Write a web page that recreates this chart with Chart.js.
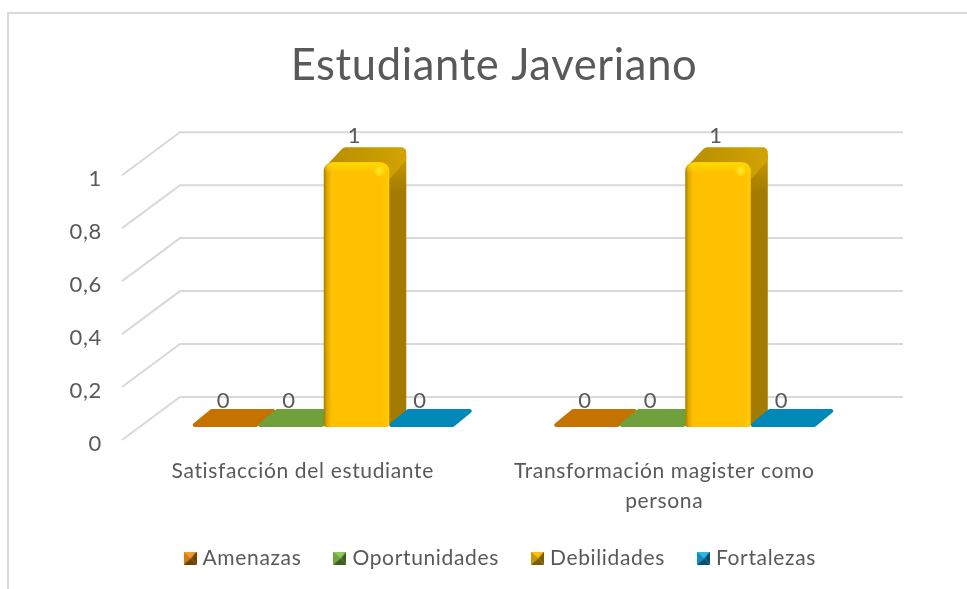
<!DOCTYPE html>
<html>
<head>
<meta charset="utf-8">
<title>Estudiante Javeriano</title>
<script src="https://cdn.jsdelivr.net/npm/chart.js@4"></script>
<style>
    html, body { margin: 0; padding: 0; background: #fff; }
    #frame { position: absolute; left: 7px; top: 12px; right: 0; bottom: 0; border-top: 2px solid #d9d9d9; border-left: 2px solid #d9d9d9; }
    #chart { position: absolute; left: 0; top: 0; display: block; }
</style>
</head>
<body>
<div id="frame"></div>
<canvas id="chart" width="967" height="589"></canvas>
<script>
const titleText = 'Estudiante Javeriano';
const categories = ['Satisfacción del estudiante', ['Transformación magister como', 'persona']];
const amenazas = [0, 0];
const oportunidades = [0, 0];
const debilidades = [1, 1];
const fortalezas = [0, 0];
const yTickLabels = ['0', '0,2', '0,4', '0,6', '0,8', '1'];

const TEXT = '#595959';
const FONT = 'Lato';

const palettes = [
    { name: 'Amenazas', data: amenazas, flat: '#c47200', light: '#f79a2c', mid: '#d97a10', dark: '#6e4200' },
    { name: 'Oportunidades', data: oportunidades, flat: '#70a03c', light: '#8ccc50', mid: '#70a83c', dark: '#3c5c20' },
    { name: 'Debilidades', data: debilidades, flat: '#c49500', light: '#ffc000', mid: '#c89a00', dark: '#7a5c00' },
    { name: 'Fortalezas', data: fortalezas, flat: '#0089b8', light: '#2cb4ee', mid: '#0c8cc4', dark: '#04506e' }
];

// the bars stand part way into the floor, the grid is on the back wall
const BAR_SHIFT = { x: 21, y: -13 };
const BAR_DEPTH = { x: 17, y: -16 };
const WALL_SHIFT = { x: 58, y: -43 };

function makeMarker(p) {
    const s = 13;
    const c = document.createElement('canvas');
    c.width = s;
    c.height = s;
    const g = c.getContext('2d');
    const tri = function(color, ax, ay, bx, by) {
        g.fillStyle = color;
        g.beginPath();
        g.moveTo(ax, ay);
        g.lineTo(bx, by);
        g.lineTo(s / 2 + 1, s / 2);
        g.fill();
    };
    tri(p.light, 0, 0, s, 0);
    tri(p.mid, 0, 0, 0, s);
    tri(p.dark, s, 0, s, s);
    tri(p.dark, 0, s, s, s);
    return c;
}
const markers = palettes.map(makeMarker);

function poly(ctx, pts, color, lw) {
    // fill plus a fat round stroke gives the soft corners of the original
    ctx.fillStyle = color;
    ctx.strokeStyle = color;
    ctx.lineWidth = lw || 4;
    ctx.lineJoin = 'round';
    ctx.beginPath();
    pts.forEach(function(p, i) {
        if (i === 0) ctx.moveTo(p[0], p[1]);
        else ctx.lineTo(p[0], p[1]);
    });
    ctx.closePath();
    ctx.fill();
    ctx.stroke();
}

function drawFlatBar(ctx, left, right, y, p) {
    const d = BAR_DEPTH;
    poly(ctx, [
        [left + 2, y - 2],
        [right - 2, y - 2],
        [right + d.x - 2, y + d.y],
        [left + d.x + 2, y + d.y]
    ], p.flat);
}

function drawTallBar(ctx, left, right, top, base, p) {
    const d = BAR_DEPTH;
    const w = right - left;

    // right side
    const side = ctx.createLinearGradient(0, top + d.y, 0, top + 30);
    side.addColorStop(0, '#cfa000');
    side.addColorStop(1, '#a37b00');
    poly(ctx, [
        [right - 3, top + 10],
        [right + d.x - 2, top + d.y + 10],
        [right + d.x - 2, base + d.y + 2],
        [right - 3, base - 3]
    ], side);

    // top, rounded over onto the side
    const roof = ctx.createLinearGradient(left, 0, right + d.x, 0);
    roof.addColorStop(0, '#b88c00');
    roof.addColorStop(1, '#d2a300');
    poly(ctx, [
        [left + 8, top + 5],
        [left + d.x + 5, top + d.y + 6],
        [right + d.x - 5, top + d.y + 6],
        [right + d.x - 5, top + d.y + 12],
        [right - 2, top + 12]
    ], roof, 10);

    // front
    const face = ctx.createLinearGradient(left, 0, right, 0);
    face.addColorStop(0, '#a67c00');
    face.addColorStop(0.05, '#e0a800');
    face.addColorStop(0.12, p.light);
    face.addColorStop(0.88, p.light);
    face.addColorStop(1, '#ffcb00');
    ctx.fillStyle = face;
    ctx.beginPath();
    ctx.roundRect(left, top, w, base - top, [9, 9, 2, 2]);
    ctx.fill();

    // lighter band along the top edge
    const band = ctx.createLinearGradient(0, top, 0, top + 11);
    band.addColorStop(0, 'rgba(255,222,0,0.9)');
    band.addColorStop(1, 'rgba(255,222,0,0)');
    ctx.fillStyle = band;
    ctx.beginPath();
    ctx.roundRect(left + 1, top, w - 1, 11, [9, 9, 0, 0]);
    ctx.fill();

    // small highlight on the top right corner
    const spot = ctx.createRadialGradient(right - 10, top + 9, 0, right - 10, top + 9, 6);
    spot.addColorStop(0, 'rgba(255,240,40,1)');
    spot.addColorStop(1, 'rgba(255,240,40,0)');
    ctx.fillStyle = spot;
    ctx.fillRect(right - 16, top + 3, 12, 12);
}

const box3d = {
    id: 'box3d',
    beforeLayout: function(chart) {
        chart.ctx.letterSpacing = '0.65px';
    },
    beforeDraw: function(chart) {
        chart.ctx.letterSpacing = '0.65px';
    },
    afterLayout: function(chart) {
        // the title and legend are not centred on the plot in the original
        chart.titleBlock.left = 10;
        chart.titleBlock.right = 978;
        chart.legend.left = 16;
        chart.legend.right = 988;
        chart.legend.top = 511;
    },
    beforeDatasetsDraw: function(chart) {
        const ctx = chart.ctx;
        const xs = chart.scales.x;
        const ys = chart.scales.y;
        ctx.save();
        ctx.strokeStyle = '#d9d9d9';
        ctx.lineWidth = 2;
        ys.ticks.forEach(function(t) {
            const y = ys.getPixelForValue(t.value);
            ctx.beginPath();
            ctx.moveTo(xs.left, y);
            ctx.lineTo(xs.left + WALL_SHIFT.x, y + WALL_SHIFT.y);
            ctx.lineTo(xs.right + WALL_SHIFT.x, y + WALL_SHIFT.y);
            ctx.stroke();
        });
        ctx.restore();
    },
    afterDatasetsDraw: function(chart) {
        const ctx = chart.ctx;
        const s = BAR_SHIFT;
        ctx.save();
        categories.forEach(function(c, i) {
            palettes.forEach(function(p, k) {
                const bar = chart.getDatasetMeta(k).data[i];
                const left = bar.x - bar.width / 2 + s.x;
                const right = bar.x + bar.width / 2 + s.x;
                const top = bar.y + s.y;
                const base = bar.base + s.y;
                if (p.data[i] === 0) drawFlatBar(ctx, left, right, base, p);
                else drawTallBar(ctx, left, right, top, base, p);
            });
        });
        categories.forEach(function(c, i) {
            palettes.forEach(function(p, k) {
                const bar = chart.getDatasetMeta(k).data[i];
                ctx.fillStyle = TEXT;
                ctx.font = '22px ' + FONT;
                ctx.textAlign = 'center';
                ctx.textBaseline = 'middle';
                ctx.fillText(String(p.data[i]), bar.x + s.x - 2, bar.y + s.y + BAR_DEPTH.y - 10);
            });
        });
        ctx.restore();
    }
};

new Chart(document.getElementById('chart'), {
    type: 'bar',
    data: {
        labels: categories,
        datasets: palettes.map(function(p) {
            return { label: p.name, data: p.data, backgroundColor: 'transparent', borderWidth: 0, categoryPercentage: 0.725, barPercentage: 1 };
        })
    },
    options: {
        responsive: false,
        animation: false,
        layout: { padding: { left: 0, right: 122, top: 40, bottom: 0 } },
        plugins: {
            tooltip: { enabled: false },
            title: {
                display: true,
                text: titleText,
                color: TEXT,
                font: { family: FONT, size: 43.5, weight: 'normal', lineHeight: 1.2 },
                padding: { top: 0, bottom: 83 }
            },
            legend: {
                position: 'bottom',
                labels: {
                    usePointStyle: true,
                    pointStyleWidth: 4,
                    padding: 36.5,
                    color: TEXT,
                    font: { family: FONT, size: 21 },
                    generateLabels: function(chart) {
                        const items = Chart.defaults.plugins.legend.labels.generateLabels(chart);
                        items.forEach(function(it, i) { it.pointStyle = markers[i]; });
                        return items;
                    }
                }
            }
        },
        scales: {
            x: {
                grid: { display: false, drawTicks: false },
                border: { display: false },
                afterFit: function(scale) { scale.height = 81.5; },
                ticks: {
                    color: TEXT,
                    autoSkip: false,
                    maxRotation: 0,
                    padding: 16,
                    font: { family: FONT, size: 21, lineHeight: 1.43 }
                }
            },
            y: {
                min: 0,
                max: 1,
                grid: { display: false, drawTicks: false },
                border: { display: false },
                afterFit: function(scale) { scale.width = 122; },
                ticks: {
                    stepSize: 0.2,
                    padding: 20,
                    color: TEXT,
                    // blank first line pushes the label a little below its gridline, as in the original
                    font: { family: FONT, size: 22, lineHeight: '7px' },
                    callback: function(value, index) { return ['', yTickLabels[index]]; }
                }
            }
        }
    },
    plugins: [box3d]
});
</script>
</body>
</html>
